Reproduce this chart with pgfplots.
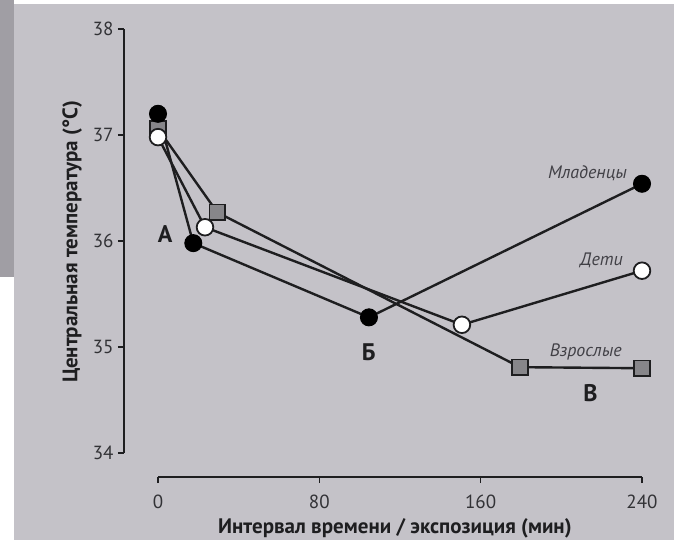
\documentclass[border=0pt]{standalone}
\usepackage{fontspec}
\setmainfont{PT Sans}
\usepackage{pgfplots}
\pgfplotsset{compat=1.18}
\definecolor{bg}{RGB}{196,194,200}
\definecolor{darkbg}{RGB}{160,158,164}
\definecolor{ink}{RGB}{30,30,32}
\definecolor{tickcol}{RGB}{50,50,54}
\definecolor{sqfill}{RGB}{135,134,138}
\definecolor{lab}{RGB}{65,64,70}

\pgfplotstableread{
t T
0 37.20
17.5 35.98
104.6 35.28
240 36.54
}\infants
\pgfplotstableread{
t T
0 36.98
23.3 36.13
150.7 35.21
240 35.72
}\children
\pgfplotstableread{
t T
0 37.06
29.4 36.27
179.5 34.81
240 34.80
}\adults

\begin{document}
\begin{tikzpicture}
\useasboundingbox (-124pt,-63pt) rectangle (550pt,477pt);
\fill[bg] (-124pt,-63pt) rectangle (550pt,477pt);
\fill[darkbg] (-124pt,200pt) rectangle (-110pt,477pt);
\fill[white] (-124pt,-63pt) rectangle (-110pt,200pt);
\fill[white] (-110pt,473pt) rectangle (550pt,477pt);
\begin{axis}[
  at={(0pt,0pt)}, anchor=south west,
  scale only axis, width=518pt, height=448pt,
  xmin=-16.86, xmax=240, ymin=33.774, ymax=38,
  axis x line=bottom, axis y line=left,
  axis line style={draw=none},
  clip=false,
  xtick={0,80,160,240}, ytick={34,35,36,37,38},
  tick align=outside, major tick length=6pt,
  tick style={line width=1.3pt, color=ink},
  /pgf/number format/assume math mode=true,
  ticklabel style={font=\fontsize{19}{19}\selectfont, text=tickcol},
  yticklabel style={xshift=-1pt},
  xticklabel style={yshift=-8pt},
  xlabel={Интервал времени / экспозиция (мин)},
  ylabel={Центральная температура (°C)},
  xlabel style={at={(axis description cs:0.523,-0.118)}, anchor=base, yshift=-4pt, font=\fontsize{21}{21}\selectfont\bfseries, text=ink},
  ylabel style={at={(axis description cs:-0.100,0.525)}, anchor=center, font=\fontsize{21}{21}\selectfont\bfseries, text=ink},
]
\draw[ink, line width=1.4pt] (axis cs:-16.86,34) -- (axis cs:-16.86,38);
\draw[ink, line width=1.4pt] (axis cs:0,33.774) -- (axis cs:240,33.774);

\addplot[ink, line width=2.4pt, mark=square*, mark size=7.8pt,
  mark options={fill=sqfill, draw=ink, line width=1.6pt}] table[x=t,y=T] {\adults};
\addplot[ink, line width=2.4pt, mark=*, mark size=8.5pt,
  mark options={fill=black, draw=black, line width=1pt}] table[x=t,y=T] {\infants};
\addplot[ink, line width=2.4pt, mark=*, mark size=8.3pt,
  mark options={fill=white, draw=ink, line width=1.8pt}] table[x=t,y=T] {\children};

\node[font=\fontsize{24}{24}\selectfont\bfseries, text=ink] at (axis cs:3.5,36.07) {А};
\node[font=\fontsize{24}{24}\selectfont\bfseries, text=ink] at (axis cs:104.5,34.95) {Б};
\node[font=\fontsize{24}{24}\selectfont\bfseries, text=ink] at (axis cs:214.5,34.57) {В};

\node[anchor=east, font=\fontsize{18}{18}\selectfont\itshape, text=lab, inner sep=0pt] at (axis cs:232.6,36.64) {Младенцы};
\node[anchor=east, font=\fontsize{18}{18}\selectfont\itshape, text=lab, inner sep=0pt] at (axis cs:230.6,35.82) {Дети};
\node[anchor=east, font=\fontsize{18}{18}\selectfont\itshape, text=lab, inner sep=0pt] at (axis cs:230,34.95) {Взрослые};
\end{axis}
\end{tikzpicture}
\end{document}
